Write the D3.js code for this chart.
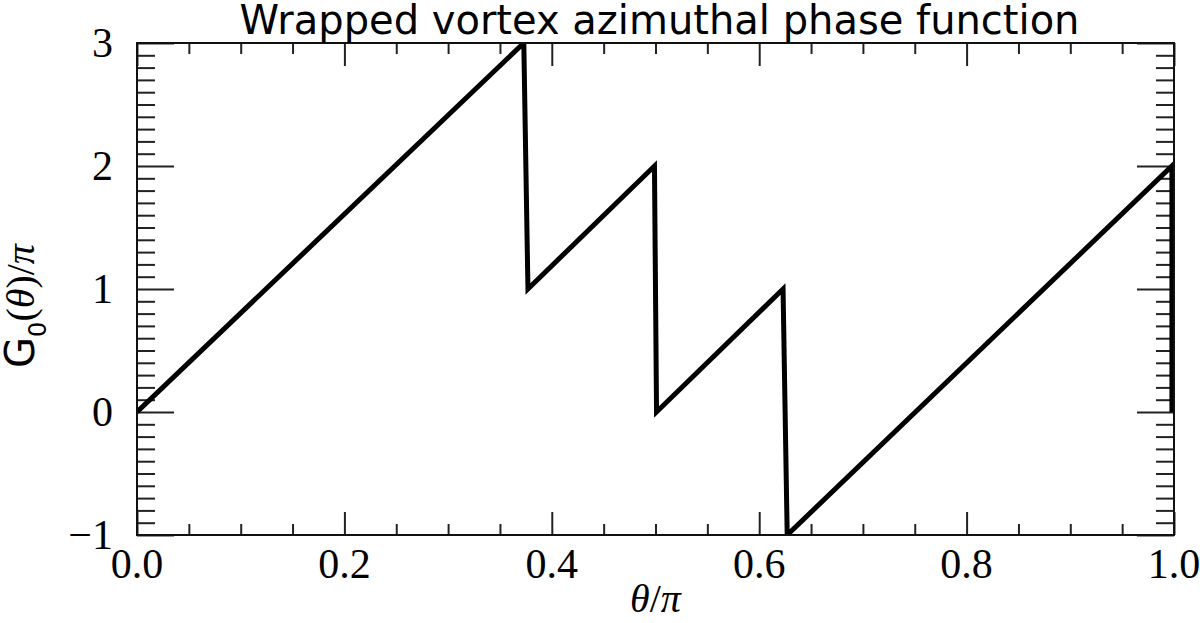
<!DOCTYPE html>
<html>
<head>
<meta charset="utf-8">
<script src="https://cdn.jsdelivr.net/npm/d3@7"></script>
<style>
  body { margin: 0; background: #fff; }
  svg { display: block; }
</style>
</head>
<body>
<svg id="chart" width="1200" height="623"></svg>
<script>
// theta / pi and wrapped phase / pi
const thetaValues = [0, 0.373, 0.377, 0.499, 0.501, 0.623, 0.627, 0.998, 0.998];
const phaseValues = [0, 3, 1, 2, 0, 1, -1, 2, 0];

const xTickValues = [0, 0.2, 0.4, 0.6, 0.8, 1.0];
const xTickLabels = ['0.0', '0.2', '0.4', '0.6', '0.8', '1.0'];
const yTickValues = [-1, 0, 1, 2, 3];
const yTickLabels = ['\u22121', '0', '1', '2', '3'];

const titleText = 'Wrapped vortex azimuthal phase function';

const width = 1200;
const height = 623;
const margin = { top: 43, right: 26, bottom: 88, left: 137 };

const svg = d3.select('#chart');

const x = d3.scaleLinear().domain([0, 1]).range([margin.left, width - margin.right]);
const y = d3.scaleLinear().domain([-1, 3]).range([height - margin.bottom, margin.top]);

const xMinor = d3.range(0, 1.0001, 0.05).filter(v => !xTickValues.some(t => Math.abs(t - v) < 1e-6));
const yMinor = d3.range(-1, 3.0001, 0.1).filter(v => !yTickValues.some(t => Math.abs(t - v) < 1e-6));

const tickColor = '#222';
const serif = '"Liberation Serif", "Times New Roman", serif';

// ticks, drawn inward on all four sides
function ticks(g, axis) {
  g.call(axis);
  g.select('.domain').remove();
  g.selectAll('.tick line').attr('stroke', tickColor).attr('stroke-width', 2);
}

const x0 = margin.left, x1 = width - margin.right;
const y0 = height - margin.bottom, y1 = margin.top;

svg.append('g').attr('transform', `translate(0,${y0})`)
  .call(g => ticks(g, d3.axisTop(x).tickValues(xTickValues).tickSize(23).tickFormat('')));
svg.append('g').attr('transform', `translate(0,${y0})`)
  .call(g => ticks(g, d3.axisTop(x).tickValues(xMinor).tickSize(11).tickFormat('')));
svg.append('g').attr('transform', `translate(0,${y1})`)
  .call(g => ticks(g, d3.axisBottom(x).tickValues(xTickValues).tickSize(23).tickFormat('')));
svg.append('g').attr('transform', `translate(0,${y1})`)
  .call(g => ticks(g, d3.axisBottom(x).tickValues(xMinor).tickSize(11).tickFormat('')));

svg.append('g').attr('transform', `translate(${x0},0)`)
  .call(g => ticks(g, d3.axisRight(y).tickValues(yTickValues).tickSize(37).tickFormat('')));
svg.append('g').attr('transform', `translate(${x0},0)`)
  .call(g => ticks(g, d3.axisRight(y).tickValues(yMinor).tickSize(18).tickFormat('')));
svg.append('g').attr('transform', `translate(${x1},0)`)
  .call(g => ticks(g, d3.axisLeft(y).tickValues(yTickValues).tickSize(37).tickFormat('')));
svg.append('g').attr('transform', `translate(${x1},0)`)
  .call(g => ticks(g, d3.axisLeft(y).tickValues(yMinor).tickSize(18).tickFormat('')));

// tick labels
svg.append('g').selectAll('text')
  .data(xTickValues)
  .join('text')
  .attr('x', d => x(d))
  .attr('y', y0 + 43)
  .attr('text-anchor', 'middle')
  .attr('font-family', serif)
  .attr('font-size', 42)
  .text((d, i) => xTickLabels[i]);

svg.append('g').selectAll('text')
  .data(yTickValues)
  .join('text')
  .attr('x', x0 - 24)
  .attr('y', d => y(d) + 14)
  .attr('text-anchor', 'end')
  .attr('font-family', serif)
  .attr('font-size', 42)
  .text((d, i) => yTickLabels[i]);

// the curve, clipped to the frame
svg.append('clipPath').attr('id', 'plot-clip')
  .append('rect')
  .attr('x', x0).attr('y', y1)
  .attr('width', x1 - x0).attr('height', y0 - y1);

const line = d3.line()
  .x(d => x(d[0]))
  .y(d => y(d[1]));

svg.append('path')
  .datum(d3.zip(thetaValues, phaseValues))
  .attr('clip-path', 'url(#plot-clip)')
  .attr('fill', 'none')
  .attr('stroke', '#000')
  .attr('stroke-width', 5)
  .attr('stroke-linejoin', 'miter')
  .attr('d', line);

// frame
svg.append('rect')
  .attr('x', x0).attr('y', y1)
  .attr('width', x1 - x0).attr('height', y0 - y1)
  .attr('fill', 'none')
  .attr('stroke', '#111')
  .attr('stroke-width', 2);

// title
svg.append('text')
  .attr('x', (x0 + x1) / 2 + 4)
  .attr('y', 34)
  .attr('text-anchor', 'middle')
  .attr('font-family', '"DejaVu Sans", sans-serif')
  .attr('font-size', 40)
  .text(titleText);

// x label: theta / pi
const xl = svg.append('text')
  .attr('x', (x0 + x1) / 2)
  .attr('y', 612)
  .attr('text-anchor', 'middle')
  .attr('font-family', serif)
  .attr('font-size', 40);
xl.append('tspan').attr('font-style', 'italic').text('\u03b8');
xl.append('tspan').text('/');
xl.append('tspan').attr('font-style', 'italic').text('\u03c0');

// y label: G_0(theta) / pi
const yl = svg.append('text')
  .attr('transform', 'translate(34,306) rotate(-90)')
  .attr('text-anchor', 'middle')
  .attr('font-family', serif)
  .attr('font-size', 40);
yl.append('tspan').attr('font-family', '"DejaVu Sans", sans-serif').attr('font-size', 40).text('G');
yl.append('tspan').attr('font-family', '"DejaVu Sans", sans-serif').attr('font-size', 24).attr('dy', 12).text('0');
yl.append('tspan').attr('dy', -12).text('(');
yl.append('tspan').attr('font-style', 'italic').text('\u03b8');
yl.append('tspan').text(')/');
yl.append('tspan').attr('font-style', 'italic').text('\u03c0');
</script>
</body>
</html>
